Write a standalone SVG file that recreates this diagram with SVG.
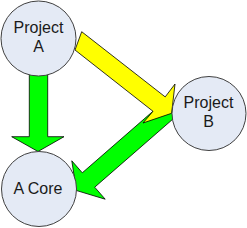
<svg xmlns="http://www.w3.org/2000/svg" width="247" height="228" viewBox="0 0 247 228">
<style>
.node{fill:#E4EAF5;stroke:#404040;stroke-width:1}
.lbl{font-family:"Liberation Sans",Arial,sans-serif;font-size:16px;fill:#1a1a1a;text-anchor:middle}
.g{fill:#00FF00;stroke:#000;stroke-width:0.8;stroke-linejoin:miter}
.y{fill:#FFFF00;stroke:#000;stroke-width:0.8;stroke-linejoin:miter}
</style>
<rect width="247" height="228" fill="#fff"/>
<g id="connectors">
<polygon class="g" points="29.3,70 47.7,70 47.7,136.7 64,136.7 38,151.5 11.7,136.7 29.3,136.7"/>
<polygon class="g" points="177.6,115 94.7,187.2 105.2,199.2 76.4,190.5 71.8,160.8 82.3,172.8 165.2,100.6"/>
<polygon class="y" points="81.7,31.7 165.2,96.9 175,84 171.6,113.3 143,123 153,111.3 75,50"/>
</g>
<g id="projectA">
<circle class="node" cx="38.5" cy="38.5" r="37.5"/>
<text class="lbl" x="38.5" y="33.3">Project</text>
<text class="lbl" x="38.5" y="52.3">A</text>
</g>
<g id="projectB">
<circle class="node" cx="209" cy="113.5" r="37"/>
<text class="lbl" x="208.5" y="108.3">Project</text>
<text class="lbl" x="208.5" y="127.3">B</text>
</g>
<g id="aCore">
<circle class="node" cx="39" cy="189" r="37.5"/>
<text class="lbl" x="38" y="194">A Core</text>
</g>
</svg>
